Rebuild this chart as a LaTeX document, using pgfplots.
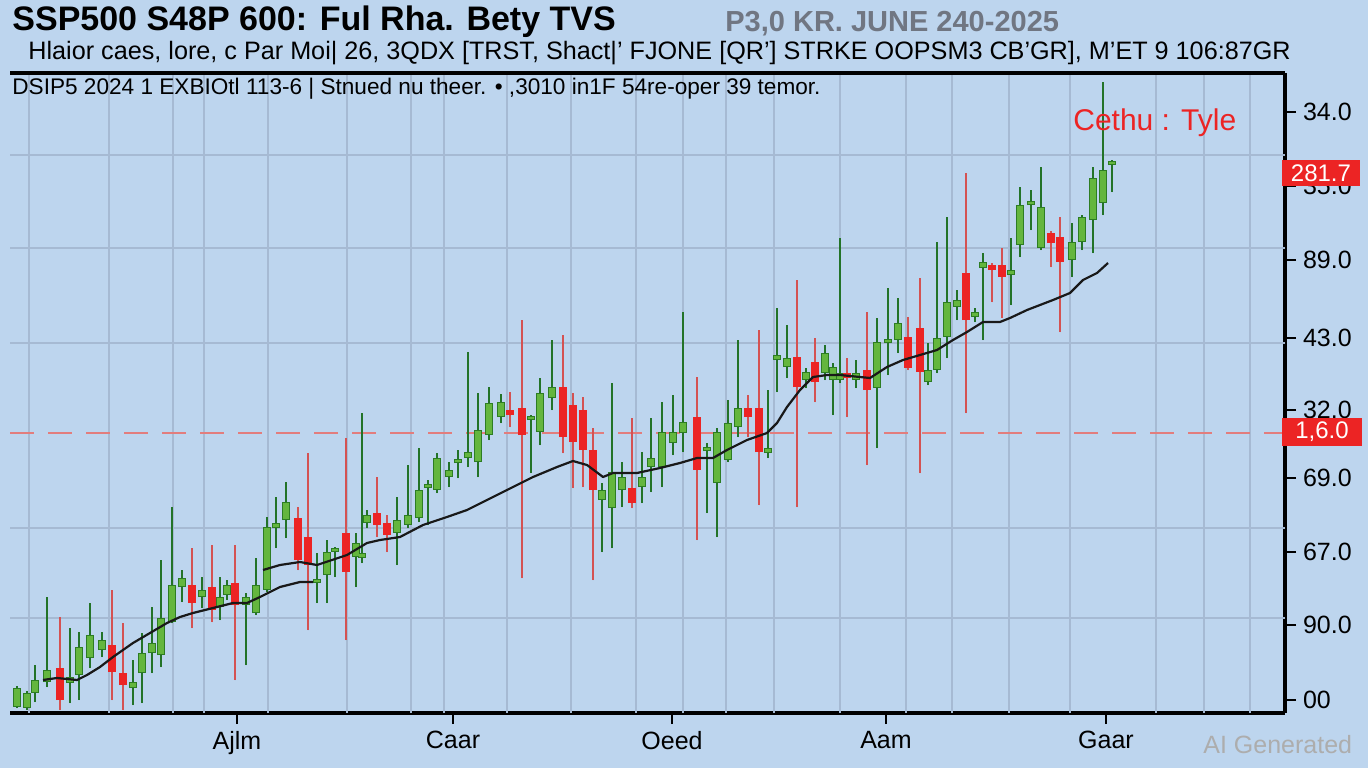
\documentclass[border=0pt]{standalone}
\usepackage{pgfplots}
\pgfplotsset{compat=1.18}
\usepackage{pgfplotstable}
\usepackage{fontspec}
\setmainfont{Liberation Sans}
\definecolor{bgc}{RGB}{189,213,238}
\definecolor{gridc}{RGB}{166,186,211}
\definecolor{gwick}{RGB}{35,115,40}
\definecolor{gedge}{RGB}{45,125,35}
\definecolor{gbody}{RGB}{100,182,62}
\definecolor{rbody}{RGB}{236,36,36}
\definecolor{rwick}{RGB}{212,82,82}
\definecolor{dashc}{RGB}{226,125,125}
\definecolor{titlegrey}{RGB}{112,118,130}

% x = horizontal position, o = open, h = high, l = low, c = close
\pgfplotstableread{
x o h l c
17 6 27 5 25
27 5 22 3 20
35 20 48 11 33
47 31 116 26 43
70 30 85 10 36
79 38 81 13 66
90 55 110 45 78
102 63 81 56 73
133 25 53 8 31
142 40 80 10 60
152 60 106 40 70
161 58 153 46 95
172 91 206 90 128
182 126 143 111 135
202 116 136 105 123
220 106 136 93 116
227 118 133 113 128
246 108 120 48 116
256 100 155 98 128
267 123 196 121 186
276 185 216 165 190
286 193 231 175 211
317 130 160 110 133
327 138 173 110 161
335 161 166 136 165
356 156 180 126 170
362 155 300 150 160
367 190 203 185 198
397 180 216 148 193
408 188 248 185 198
419 195 265 191 223
428 225 233 188 228
437 223 260 220 255
449 236 251 226 243
458 250 263 235 253
468 255 361 246 261
478 251 320 236 283
489 278 326 273 310
501 296 319 290 311
531 293 298 240 296
540 281 335 268 320
552 315 373 303 326
602 213 230 161 223
612 205 330 165 241
622 223 251 206 236
642 226 261 210 236
651 246 295 221 255
662 246 311 226 281
673 270 318 258 281
683 280 401 261 291
707 262 270 200 265
717 230 285 176 281
728 253 313 251 290
738 286 373 276 305
768 260 323 255 265
777 353 405 321 358
787 346 388 335 355
806 333 345 325 341
825 340 368 333 360
833 333 350 298 346
840 333 475 330 340
856 333 353 325 340
877 325 395 265 371
888 370 425 338 373
898 373 415 360 390
928 331 370 328 343
937 343 471 340 375
947 376 496 355 411
957 406 423 393 413
975 396 405 391 401
983 445 460 373 451
1011 438 475 408 443
1020 468 526 456 508
1031 508 523 483 510
1041 465 546 463 506
1072 453 490 436 471
1082 471 498 463 496
1093 493 546 460 535
1103 510 631 498 543
1112 548 553 521 551
}\gdata

\pgfplotstableread{
x o h l c
60 45 96 3 13
112 68 123 13 41
123 40 90 3 28
192 128 165 85 110
212 126 168 91 103
235 130 168 33 108
298 195 206 143 153
308 176 260 83 148
346 180 275 73 141
377 200 236 176 188
387 190 198 161 178
510 303 321 286 298
522 305 393 135 278
563 326 378 260 276
573 308 320 225 271
583 303 316 226 263
593 263 285 133 223
632 225 295 205 210
697 296 336 173 243
748 305 318 276 296
759 305 383 208 261
797 356 433 206 326
815 351 375 311 331
847 340 355 296 335
867 343 401 248 323
908 376 396 343 345
920 385 435 240 341
966 440 540 300 393
992 448 450 411 443
1002 448 465 395 436
1051 480 482 446 470
1060 476 496 381 451
}\rdata

\pgfplotstableread{
x y
43 33
57 35
77 33
87 38
100 46
113 56
133 70
150 80
167 90
180 96
193 100
213 105
233 110
247 110
260 116
280 126
300 131
313 131
}\maA

\pgfplotstableread{
x y
263 143
280 148
300 151
317 148
347 158
367 170
380 173
400 176
423 188
447 196
467 203
493 216
513 226
533 236
557 246
573 252
587 248
603 236
613 240
637 240
660 245
680 250
697 255
713 255
727 263
747 273
767 280
777 290
787 306
800 323
813 336
827 338
840 338
860 336
870 335
887 346
903 353
920 358
937 363
953 373
967 381
983 391
1000 391
1010 395
1027 403
1053 413
1070 420
1083 433
1097 440
1108 450
}\maB

\pgfplotsset{
  candle/.style={only marks, mark=*, mark size=0pt,
    mark options={draw=none, fill=none}, forget plot,
    error bars/.cd, y dir=plus, y explicit, error mark=none,
    error bar style={#1}},
}

\begin{document}
\begin{tikzpicture}
\useasboundingbox (0,0) rectangle (684bp,384bp);
\fill[bgc] (0,0) rectangle (684bp,384bp);
\begin{axis}[
  at={(5bp,27.5bp)}, anchor=south west,
  scale only axis, width=637.5bp, height=320bp,
  xmin=10, xmax=1285, ymin=0, ymax=640,
  clip=false,
  axis x line*=bottom, axis y line*=right,
  axis line style={line width=1.6bp, black},
  xtick={237,453,672,886,1106},
  xticklabels={Ajlm,Caar,Oeed,Aam,Gaar},
  ytick={13,88,161,235,303,375,453,527,601},
  yticklabels={00,90.0,67.0,69.0,32.0,43.0,89.0,35.0,34.0},
  tick align=outside,
  major tick length=5.5bp,
  tick style={line width=1.1bp, black},
  ticklabel style={font=\fontsize{12.5bp}{14bp}\selectfont},
  /pgf/number format/assume math mode=true,
  extra x ticks={29,109,173,204,268,347,411,444,507,571,636,683,726,774,840,906,952,1009,1070,1156,1204,1250},
  extra x tick labels={},
  extra x tick style={grid=major, major tick length=0pt},
  extra y ticks={95,185,370,465,558},
  extra y tick labels={},
  extra y tick style={grid=major, major tick length=0pt},
  major grid style={color=gridc, line width=1bp},
]
\addplot[dashc, line width=1bp, dash pattern=on 12bp off 7bp] coordinates {(10,280) (1283,280)};
% wicks
\addplot[candle={line width=1bp, color=gwick}]
  table[x=x, y=l, y error plus expr=\thisrow{h}-\thisrow{l}] \gdata;
\addplot[candle={line width=1bp, color=rwick}]
  table[x=x, y=l, y error plus expr=\thisrow{h}-\thisrow{l}] \rdata;
% bodies
\addplot[candle={line width=4.2bp, color=gedge}]
  table[x=x, y expr={min(\thisrow{o},\thisrow{c})}, y error plus expr={max(abs(\thisrow{c}-\thisrow{o}),4)}] \gdata;
\addplot[candle={line width=2.6bp, color=gbody}]
  table[x=x, y expr={min(\thisrow{o},\thisrow{c})+0.8}, y error plus expr={max(abs(\thisrow{c}-\thisrow{o}),4)-1.6}] \gdata;
\addplot[candle={line width=4bp, color=rbody}]
  table[x=x, y expr={min(\thisrow{o},\thisrow{c})}, y error plus expr={max(abs(\thisrow{c}-\thisrow{o}),4)}] \rdata;
% moving average
\addplot[black!90, line width=1.1bp, line join=round] table[x=x,y=y] \maA;
\addplot[black!90, line width=1.1bp, line join=round] table[x=x,y=y] \maB;
\draw[black, line width=1.6bp] (rel axis cs:0,1) -- (rel axis cs:1,1);
\end{axis}
\begin{scope}[x=0.5bp, y=-0.5bp, shift={(0,384bp)}]
\node[anchor=base west, inner sep=0, font=\fontsize{17bp}{19bp}\selectfont\bfseries] at (12,31) {SSP500 S48P 600: Ful Rha. Bety TVS};
\node[anchor=base west, inner sep=0, text=titlegrey, font=\fontsize{14.5bp}{17bp}\selectfont\bfseries] at (725,32) {P3,0 KR. JUNE 240-2025};
\node[anchor=base west, inner sep=0, font=\fontsize{12.6bp}{14bp}\selectfont] at (28,60) {Hlaior caes, lore, c Par Moi| 26, 3QDX [TRST, Shact|' FJONE [QR'] STRKE OOPSM3 CB'GR], M'ET 9 106:87GR};
\node[anchor=base west, inner sep=0, font=\fontsize{11.3bp}{13bp}\selectfont] at (12,95) {DSIP5 2024 1 EXBIOtl 113-6 | Stnued nu theer. \textbullet\ ,3010 in1F 54re-oper 39 temor.};
\node[anchor=base west, inner sep=0, text=rbody, font=\fontsize{15bp}{17bp}\selectfont] at (1073,131) {Cethu : Tyle};
\node[fill=rbody, text=white, minimum width=39bp, minimum height=13bp, inner sep=0, font=\fontsize{12bp}{14bp}\selectfont] at (1321,173) {281.7};
\node[fill=rbody, text=white, minimum width=40bp, minimum height=14bp, inner sep=0, font=\fontsize{12bp}{14bp}\selectfont] at (1322,432) {1,6.0};
\node[anchor=base west, inner sep=0, text=black!32, font=\fontsize{12.5bp}{14bp}\selectfont] at (1203,754) {AI Generated};
\end{scope}
\end{tikzpicture}
\end{document}
